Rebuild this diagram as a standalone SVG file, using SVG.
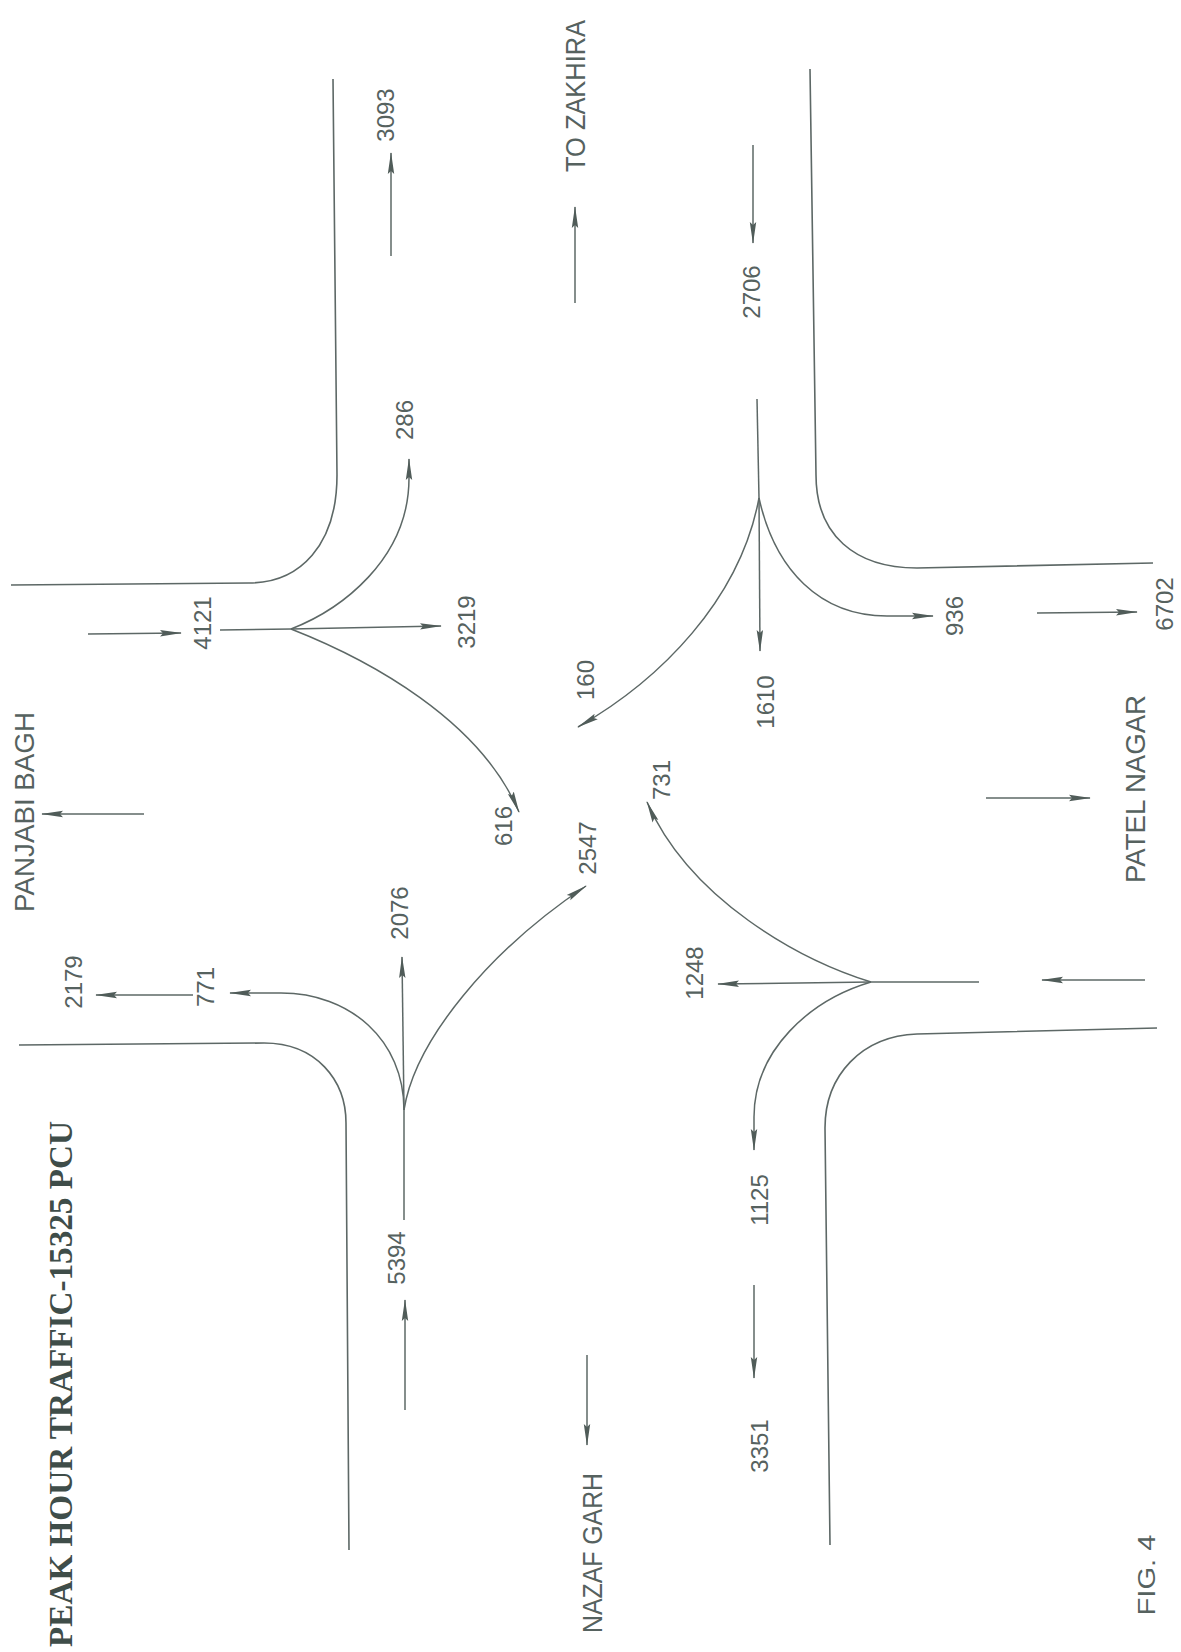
<svg xmlns="http://www.w3.org/2000/svg" width="1181" height="1652" viewBox="0 0 1181 1652">
<defs>
<marker id="ah" markerUnits="userSpaceOnUse" viewBox="0 0 22 8" refX="21" refY="4" markerWidth="22" markerHeight="8" orient="auto">
<path d="M0,0.8 L22,4 L0,7.2 L3,4 Z" fill="#505c59"/>
</marker>
<style>
.kerb{fill:none;stroke:#5d6866;stroke-width:1.6}
.flow{fill:none;stroke:#5d6866;stroke-width:1.5}
.arr{marker-end:url(#ah)}
.num{font-family:"Liberation Sans",Arial,sans-serif;font-size:24px;fill:#56625f;text-anchor:middle}
.place{font-family:"Liberation Sans",Arial,sans-serif;font-size:27px;fill:#56625f;text-anchor:middle}
.title{font-family:"Liberation Serif","Times New Roman",serif;font-weight:bold;font-size:34px;fill:#3f4d49;text-anchor:middle}
</style>
</defs>
<rect width="1181" height="1652" fill="#ffffff"/>

<g id="kerbs">
<path id="kerb-ul" class="kerb" d="M333,79 L337,475 C337,545 300,583 249,583 L11,585"/>
<path id="kerb-ur" class="kerb" d="M810,69 L816,475 C816,535 855,568 917,568 L1153,563"/>
<path id="kerb-ll" class="kerb" d="M19,1045 L264,1043 C316,1043 346,1080 346,1123 L349,1550"/>
<path id="kerb-lr" class="kerb" d="M1157,1028 L917,1034 C862,1036 825,1075 825,1128 L830,1545"/>
</g>

<g id="connectors">
<path class="flow arr" d="M391,256 L391,153"/>
<path class="flow arr" d="M575,303 L575,207"/>
<path class="flow arr" d="M753,145 L753,243"/>
<path class="flow arr" d="M144,814 L42,814"/>
<path class="flow arr" d="M88,634 L181,633"/>
<path class="flow" d="M220,630 L291,629"/>
<path class="flow arr" d="M291,629 L441,626"/>
<path class="flow arr" d="M291,629 C340,610 409,560 409,478 L409,459"/>
<path class="flow arr" d="M291,629 C370,660 480,720 519,812"/>
<path class="flow" d="M757,399 L759,498"/>
<path class="flow arr" d="M759,498 L760,651"/>
<path class="flow arr" d="M759,498 C740,600 660,680 578,727"/>
<path class="flow arr" d="M759,498 C775,570 820,616 887,616 L933,616"/>
<path class="flow arr" d="M1037,613 L1137,612"/>
<path class="flow arr" d="M986,798 L1090,798"/>
<path class="flow arr" d="M1145,980 L1042,980"/>
<path class="flow" d="M979,982 L871,982"/>
<path class="flow arr" d="M871,982 L718,984"/>
<path class="flow arr" d="M871,982 C800,960 690,900 647,802"/>
<path class="flow arr" d="M871,982 C810,1000 754,1050 754,1117 L754,1150"/>
<path class="flow arr" d="M754,1285 L754,1378"/>
<path class="flow arr" d="M193,995 L96,995"/>
<path class="flow arr" d="M404,1110 C404,1040 350,993 281,993 L230,993"/>
<path class="flow arr" d="M404,1110 L402,957"/>
<path class="flow arr" d="M404,1110 C415,1040 490,950 586,886"/>
<path class="flow" d="M404,1110 L404,1220"/>
<path class="flow arr" d="M405,1410 L405,1300"/>
<path class="flow arr" d="M587,1355 L587,1445"/>
</g>

<g id="labels">
<text id="t-3093" class="num" transform="translate(394,115) rotate(-90)">3093</text>
<text id="t-286" class="num" transform="translate(413,420) rotate(-90)">286</text>
<text id="t-zakhira" class="place" transform="translate(585,96) rotate(-90)" textLength="152" lengthAdjust="spacingAndGlyphs">TO  ZAKHIRA</text>
<text id="t-2706" class="num" transform="translate(760,292) rotate(-90)">2706</text>
<text id="t-4121" class="num" transform="translate(211,623) rotate(-90)">4121</text>
<text id="t-3219" class="num" transform="translate(475,622) rotate(-90)">3219</text>
<text id="t-panjabi" class="place" transform="translate(34,812) rotate(-90)" textLength="200" lengthAdjust="spacingAndGlyphs">PANJABI  BAGH</text>
<text id="t-160" class="num" transform="translate(594,680) rotate(-90)">160</text>
<text id="t-616" class="num" transform="translate(512,826) rotate(-90)">616</text>
<text id="t-2547" class="num" transform="translate(596,848) rotate(-90)">2547</text>
<text id="t-731" class="num" transform="translate(670,780) rotate(-90)">731</text>
<text id="t-1610" class="num" transform="translate(774,702) rotate(-90)">1610</text>
<text id="t-936" class="num" transform="translate(963,616) rotate(-90)">936</text>
<text id="t-6702" class="num" transform="translate(1173,604) rotate(-90)">6702</text>
<text id="t-2076" class="num" transform="translate(408,913) rotate(-90)">2076</text>
<text id="t-2179" class="num" transform="translate(82,982) rotate(-90)">2179</text>
<text id="t-771" class="num" transform="translate(214,987) rotate(-90)">771</text>
<text id="t-1248" class="num" transform="translate(703,973) rotate(-90)">1248</text>
<text id="t-patel" class="place" transform="translate(1145,789) rotate(-90)" textLength="188" lengthAdjust="spacingAndGlyphs">PATEL  NAGAR</text>
<text id="t-5394" class="num" transform="translate(405,1258) rotate(-90)">5394</text>
<text id="t-1125" class="num" transform="translate(768,1200) rotate(-90)">1125</text>
<text id="t-3351" class="num" transform="translate(768,1446) rotate(-90)">3351</text>
<text id="t-nazaf" class="place" transform="translate(602,1553) rotate(-90)" textLength="160" lengthAdjust="spacingAndGlyphs">NAZAF  GARH</text>
<text id="t-fig" class="num" transform="translate(1155,1575) rotate(-90)" textLength="81" lengthAdjust="spacingAndGlyphs">FIG.  4</text>
<text id="t-title" class="title" transform="translate(72,1384) rotate(-90)" textLength="526" lengthAdjust="spacingAndGlyphs">PEAK HOUR TRAFFIC-15325 PCU</text>
</g>
</svg>
